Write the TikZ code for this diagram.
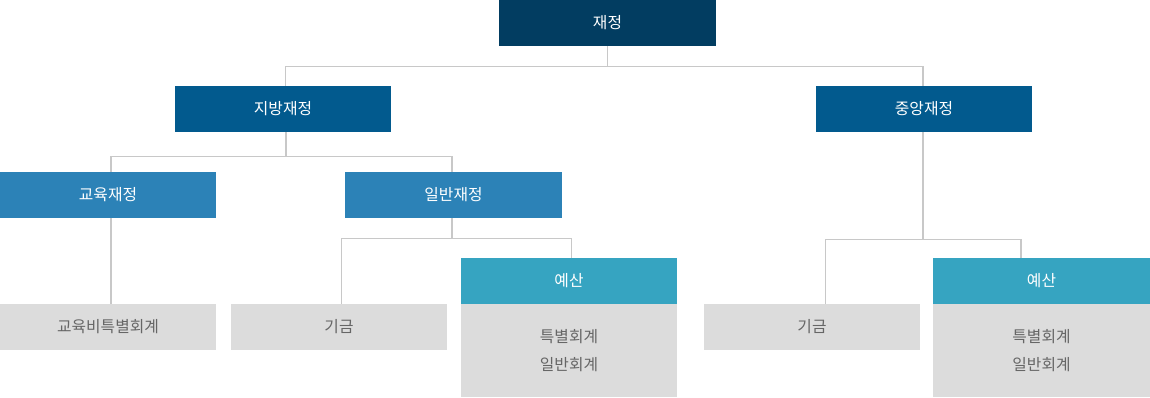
\documentclass[tikz,border=0pt]{standalone}
\usepackage{fontspec}
\setmainfont{Noto Sans CJK KR}
\definecolor{cTop}{HTML}{023D61}
\definecolor{cMid}{HTML}{025A8E}
\definecolor{cLow}{HTML}{2C82B7}
\definecolor{cBud}{HTML}{36A4C1}
\definecolor{cGray}{HTML}{DCDCDC}
\definecolor{cLine}{HTML}{C8C8C8}
\definecolor{cText}{HTML}{666666}
\begin{document}
\begin{tikzpicture}[x=1pt,y=-1pt,
  box/.style={rectangle, inner sep=0pt, minimum width=216.5pt, minimum height=46pt,
    font=\fontsize{15.8}{28}\selectfont, text=white, align=center},
  topbox/.style={box, fill=cTop},
  midbox/.style={box, fill=cMid},
  lowbox/.style={box, fill=cLow},
  budbox/.style={box, fill=cBud},
  graybox/.style={box, fill=cGray, text=cText},
  conn/.style={draw=cLine, line width=1.3pt}]
\useasboundingbox (0,0) rectangle (1150,397);
\node[topbox] (top) at (607.5,23) {재정};
\node[midbox] (jb) at (283,109) {지방재정};
\node[midbox] (jg) at (924,109) {중앙재정};
\node[lowbox] (edu) at (108,195) {교육재정};
\node[lowbox] (gen) at (453.5,195) {일반재정};
\node[budbox] (budL) at (569,281) {예산};
\node[budbox] (budR) at (1041.5,281) {예산};
\node[graybox] (edut) at (108,327) {교육비특별회계};
\node[graybox] (fundL) at (339,327) {기금};
\node[graybox, minimum height=93pt] (accL) at (569,350.5) {특별회계\\일반회계};
\node[graybox] (fundR) at (812,327) {기금};
\node[graybox, minimum height=93pt] (accR) at (1041.5,350.5) {특별회계\\일반회계};
% level 1
\draw[conn] (top.south) -- ([yshift=-20]top.south) coordinate (t1);
\draw[conn] ([xshift=2.5]jb.north) |- (t1) -| ([xshift=-1]jg.north);
% 지방재정
\draw[conn] ([xshift=3]jb.south) -- ([xshift=3,yshift=-24]jb.south) coordinate (t2);
\draw[conn] ([xshift=3]edu.north) |- (t2) -| ([xshift=-1.5]gen.north);
% 교육재정
\draw[conn] ([xshift=3]edu.south) -- ([xshift=3]edut.north);
% 일반재정
\draw[conn] ([xshift=-1.5]gen.south) -- ([xshift=-1.5,yshift=-20]gen.south) coordinate (t3);
\draw[conn] ([xshift=2.5]fundL.north) |- (t3) -| ([xshift=2.5]budL.north);
% 중앙재정
\draw[conn] ([xshift=-1]jg.south) -- ([xshift=-1,yshift=-107.5]jg.south) coordinate (t4);
\draw[conn] ([xshift=13.5]fundR.north) |- (t4) -| ([xshift=-20.5]budR.north);
\end{tikzpicture}
\end{document}
